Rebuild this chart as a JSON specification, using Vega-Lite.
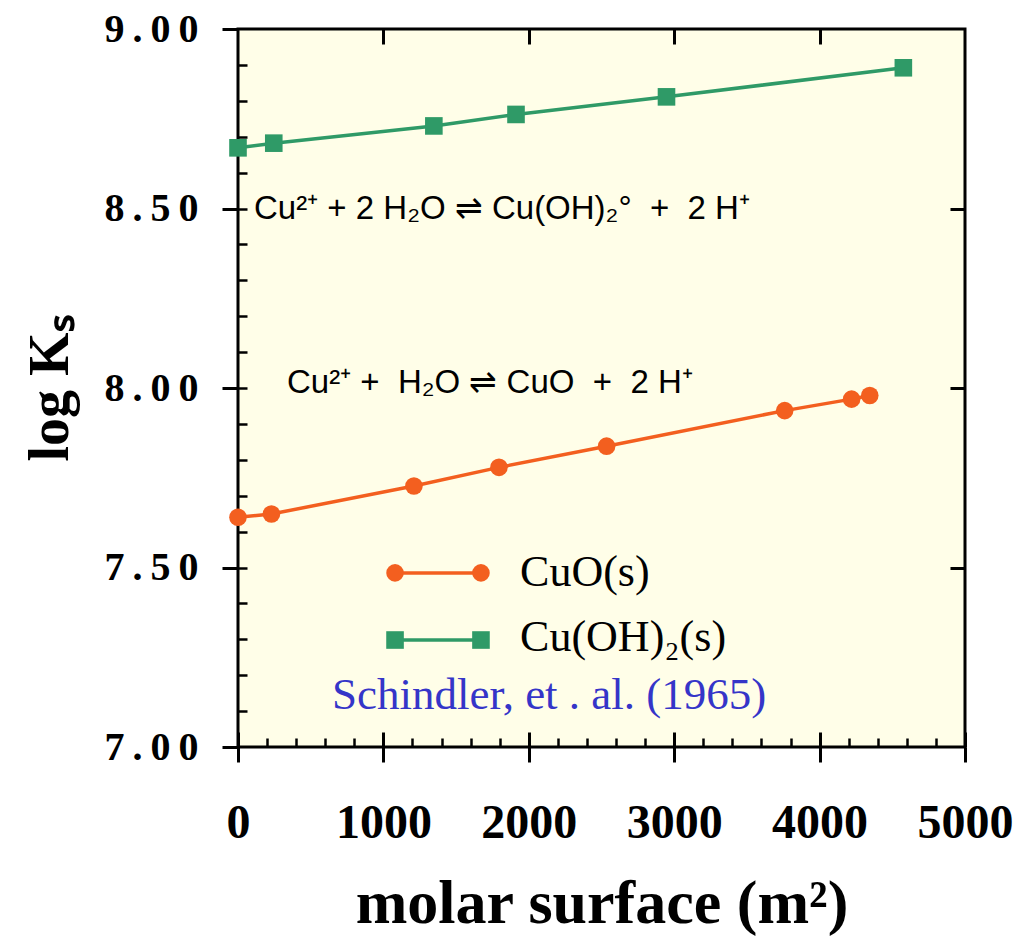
{
  "$schema": "https://vega.github.io/schema/vega-lite/v6.json",
  "width": 727,
  "height": 718,
  "autosize": "none",
  "padding": {"left": 238, "top": 29, "right": 50, "bottom": 193},
  "background": "white",
  "config": {
    "view": {"fill": "#FFFEE8", "stroke": "black", "strokeWidth": 3},
    "axis": {"tickColor": "black", "tickWidth": 3, "tickCap": "butt", "domain": false, "grid": false, "labelColor": "black", "titleColor": "black", "labelOverlap": false, "labelFlush": false}
  },
  "datasets": {
    "pts": [
      {"series": "CuO(s)", "x": 0, "y": 7.64},
      {"series": "CuO(s)", "x": 230, "y": 7.649},
      {"series": "CuO(s)", "x": 1210, "y": 7.727},
      {"series": "CuO(s)", "x": 1795, "y": 7.779},
      {"series": "CuO(s)", "x": 2535, "y": 7.838},
      {"series": "CuO(s)", "x": 3760, "y": 7.937},
      {"series": "CuO(s)", "x": 4220, "y": 7.969},
      {"series": "CuO(s)", "x": 4345, "y": 7.979},
      {"series": "Cu(OH)2(s)", "x": 0, "y": 8.669},
      {"series": "Cu(OH)2(s)", "x": 246, "y": 8.682},
      {"series": "Cu(OH)2(s)", "x": 1347, "y": 8.73},
      {"series": "Cu(OH)2(s)", "x": 1912, "y": 8.762},
      {"series": "Cu(OH)2(s)", "x": 2947, "y": 8.811},
      {"series": "Cu(OH)2(s)", "x": 4576, "y": 8.892}
    ],
    "legend": [
      {"series": "CuO(s)", "x": 1080, "y": 7.485},
      {"series": "CuO(s)", "x": 1671, "y": 7.485},
      {"series": "Cu(OH)2(s)", "x": 1080, "y": 7.298},
      {"series": "Cu(OH)2(s)", "x": 1671, "y": 7.298}
    ],
    "legendLabels": [
      {"label": "CuO(s)", "x": 1940, "y": 7.485},
      {"label": "Cu(OH)₂(s)", "x": 1940, "y": 7.305}
    ],
    "equations": [
      {"label": "Cu²⁺ + 2 H₂O ⇌ Cu(OH)₂° \u00a0+ \u00a02 H⁺", "x": 110, "y": 8.5},
      {"label": "Cu²⁺ + \u00a0H₂O ⇌ CuO \u00a0+ \u00a02 H⁺", "x": 337, "y": 8.014}
    ],
    "source": [
      {"label": "Schindler, et . al. (1965)", "x": 2140, "y": 7.145}
    ]
  },
  "resolve": {"axis": {"x": "independent", "y": "independent"}},
  "layer": [
    {
      "data": {"name": "pts"},
      "mark": {"type": "line", "strokeWidth": 3.5},
      "encoding": {
        "x": {"field": "x", "type": "quantitative", "scale": {"domain": [0, 5000], "nice": false, "zero": false},
          "axis": {"orient": "bottom", "values": [0, 1000, 2000, 3000, 4000, 5000], "format": "d", "tickSize": 15, "labelPadding": 37, "labelFont": "Liberation Serif", "labelFontWeight": "bold", "labelFontSize": 48, "title": "molar surface (m²)", "titleFont": "Liberation Serif", "titleFontWeight": "bold", "titleFontSize": 62, "titlePadding": 26}},
        "y": {"field": "y", "type": "quantitative", "scale": {"domain": [7, 9], "nice": false, "zero": false},
          "axis": {"orient": "left", "values": [7, 7.5, 8, 8.5, 9], "tickSize": 16, "labelPadding": 24, "labelFont": "Liberation Serif", "labelFontWeight": "bold", "labelFontSize": 40, "labelExpr": "join(split(format(datum.value, '.2f'), ''), '\u2009')", "title": "log Kₛ", "titleFont": "Liberation Serif", "titleFontWeight": "bold", "titleFontSize": 56, "titlePadding": 24}},
        "color": {"field": "series", "type": "nominal", "scale": {"domain": ["CuO(s)", "Cu(OH)2(s)"], "range": ["#F35F1F", "#2F9A67"]}, "legend": null},
        "detail": {"field": "series"}
      }
    },
    {
      "data": {"name": "pts"},
      "mark": {"type": "point", "filled": true, "opacity": 1},
      "encoding": {
        "x": {"field": "x", "type": "quantitative", "scale": {"domain": [0, 5000], "nice": false, "zero": false},
          "axis": {"orient": "bottom", "values": [0, 1000, 2000, 3000, 4000, 5000], "tickSize": -15, "labels": false, "title": null}},
        "y": {"field": "y", "type": "quantitative", "scale": {"domain": [7, 9], "nice": false, "zero": false},
          "axis": {"orient": "left", "values": [7.1, 7.2, 7.3, 7.4, 7.5, 7.6, 7.7, 7.8, 7.9, 8.0, 8.1, 8.2, 8.3, 8.4, 8.5, 8.6, 8.7, 8.8, 8.9], "tickSize": -9, "tickWidth": 2.5, "labels": false, "title": null}},
        "color": {"field": "series", "type": "nominal", "scale": {"domain": ["CuO(s)", "Cu(OH)2(s)"], "range": ["#F35F1F", "#2F9A67"]}, "legend": null},
        "shape": {"field": "series", "type": "nominal", "scale": {"domain": ["CuO(s)", "Cu(OH)2(s)"], "range": ["circle", "square"]}, "legend": null},
        "size": {"value": 310}
      }
    },
    {
      "data": {"name": "equations"},
      "mark": {"type": "text", "align": "left", "baseline": "middle", "font": "Liberation Sans", "fontSize": 33, "color": "black"},
      "encoding": {
        "x": {"field": "x", "type": "quantitative", "scale": {"domain": [0, 5000], "nice": false, "zero": false},
          "axis": {"orient": "bottom", "values": [200, 400, 600, 800, 1200, 1400, 1600, 1800, 2200, 2400, 2600, 2800, 3200, 3400, 3600, 3800, 4200, 4400, 4600, 4800], "tickSize": -9, "tickWidth": 2.5, "labels": false, "title": null}},
        "y": {"field": "y", "type": "quantitative", "scale": {"domain": [7, 9], "nice": false, "zero": false},
          "axis": {"orient": "right", "values": [7.5, 8, 8.5], "tickSize": -15, "labels": false, "title": null}},
        "text": {"field": "label"}
      }
    },
    {
      "data": {"name": "source"},
      "mark": {"type": "text", "align": "center", "baseline": "middle", "font": "Liberation Serif", "fontSize": 45, "color": "#3535C8"},
      "encoding": {
        "x": {"field": "x", "type": "quantitative", "scale": {"domain": [0, 5000], "nice": false, "zero": false},
          "axis": {"orient": "top", "values": [1000, 2000, 3000, 4000], "tickSize": -15, "labels": false, "title": null}},
        "y": {"field": "y", "type": "quantitative", "scale": {"domain": [7, 9], "nice": false, "zero": false}, "axis": null},
        "text": {"field": "label"}
      }
    },
    {
      "data": {"name": "legend"},
      "mark": {"type": "line", "strokeWidth": 3.5},
      "encoding": {
        "x": {"field": "x", "type": "quantitative", "scale": {"domain": [0, 5000], "nice": false, "zero": false}, "axis": null},
        "y": {"field": "y", "type": "quantitative", "scale": {"domain": [7, 9], "nice": false, "zero": false}, "axis": null},
        "color": {"field": "series", "type": "nominal", "scale": {"domain": ["CuO(s)", "Cu(OH)2(s)"], "range": ["#F35F1F", "#2F9A67"]}, "legend": null},
        "detail": {"field": "series"}
      }
    },
    {
      "data": {"name": "legend"},
      "mark": {"type": "point", "filled": true, "opacity": 1},
      "encoding": {
        "x": {"field": "x", "type": "quantitative", "scale": {"domain": [0, 5000], "nice": false, "zero": false}, "axis": null},
        "y": {"field": "y", "type": "quantitative", "scale": {"domain": [7, 9], "nice": false, "zero": false}, "axis": null},
        "color": {"field": "series", "type": "nominal", "scale": {"domain": ["CuO(s)", "Cu(OH)2(s)"], "range": ["#F35F1F", "#2F9A67"]}, "legend": null},
        "shape": {"field": "series", "type": "nominal", "scale": {"domain": ["CuO(s)", "Cu(OH)2(s)"], "range": ["circle", "square"]}, "legend": null},
        "size": {"value": 310}
      }
    },
    {
      "data": {"name": "legendLabels"},
      "mark": {"type": "text", "align": "left", "baseline": "middle", "font": "Liberation Serif", "fontSize": 44, "color": "black"},
      "encoding": {
        "x": {"field": "x", "type": "quantitative", "scale": {"domain": [0, 5000], "nice": false, "zero": false}, "axis": null},
        "y": {"field": "y", "type": "quantitative", "scale": {"domain": [7, 9], "nice": false, "zero": false}, "axis": null},
        "text": {"field": "label"}
      }
    }
  ]
}
